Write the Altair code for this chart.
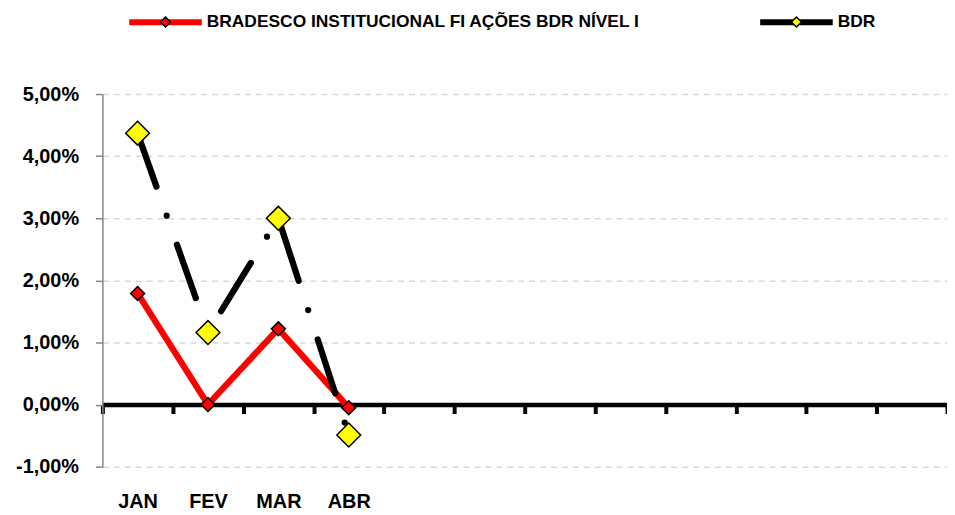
import altair as alt
import pandas as pd

# ---- data ----
months = ["JAN", "FEV", "MAR", "ABR", "MAI", "JUN", "JUL", "AGO", "SET", "OUT", "NOV", "DEZ"]
labeled_months = ["JAN", "FEV", "MAR", "ABR"]
FUND = "BRADESCO INSTITUCIONAL FI AÇÕES BDR NÍVEL I"
BDR = "BDR"
fund_values = [1.79, 0.00, 1.22, -0.05]
bdr_values = [4.37, 1.16, 3.00, -0.49]
y_ticks = [-1, 0, 1, 2, 3, 4, 5]

rows = []
for m, v in zip(labeled_months, fund_values):
    rows.append({"month": m, "series": FUND, "value": v})
for m, v in zip(labeled_months, bdr_values):
    rows.append({"month": m, "series": BDR, "value": v})
df = pd.DataFrame(rows)
df["series_mk"] = df["series"]  # same names, used by the marker layer

FONT = "Liberation Sans"
label_js = "[" + ",".join("'%s'" % m for m in labeled_months) + "]"

x_enc = alt.X(
    "month:N",
    sort=months,
    scale=alt.Scale(type="band", domain=months, paddingInner=0, paddingOuter=0),
    axis=alt.Axis(
        title=None,
        orient="bottom",
        offset=-62.5,
        domainColor="black",
        domainWidth=4.5,
        tickColor="black",
        tickWidth=4,
        tickSize=9,
        tickBand="extent",
        labelExpr="indexof(" + label_js + ", datum.value) >= 0 ? datum.value : ''",
        labelAngle=0,
        labelPadding=79,
        labelFont=FONT,
        labelFontSize=20,
        labelFontWeight="bold",
        labelColor="black",
        labelOverlap=False,
        grid=False,
    ),
)

y_enc = alt.Y(
    "value:Q",
    scale=alt.Scale(domain=[-1, 5], nice=False, zero=False),
    axis=alt.Axis(
        title=None,
        values=y_ticks,
        labelExpr="(datum.value < 0 ? '-' : '') + replace(format(abs(datum.value), '.2f'), '.', ',') + '%'",
        grid=True,
        gridDash=[6, 5],
        gridColor="#d9d9d9",
        gridWidth=1.5,
        domainColor="#868686",
        domainWidth=1.5,
        tickColor="#868686",
        tickWidth=1.5,
        tickSize=7,
        labelPadding=17,
        labelFont=FONT,
        labelFontSize=20,
        labelFontWeight="bold",
        labelColor="black",
    ),
)

legend_common = dict(
    title=None,
    orient="none",
    direction="horizontal",
    padding=0,
    legendX=24,
    legendY=-112,
    labelFont=FONT,
    labelFontSize=17.5,
    labelFontWeight="bold",
    labelColor="black",
    labelLimit=0,
    labelOffset=2,
)

lines = alt.Chart(df).mark_line(strokeWidth=6.3, strokeCap="round", strokeJoin="round").encode(
    x=x_enc,
    y=y_enc,
    color=alt.Color(
        "series:N",
        sort="descending",
        scale=alt.Scale(range=["#ff0000", "#000000"]),
        legend=alt.Legend(
            symbolType="stroke",
            symbolSize=5329,
            symbolStrokeWidth=6,
            columnPadding=108,
            **legend_common,
        ),
    ),
    strokeDash=alt.StrokeDash(
        "series:N",
        scale=alt.Scale(domain=[FUND, BDR], range=[[1, 0], [57, 31, 0, 31]]),
        legend=None,
    ),
)

# marker part of the legend: same place, symbols only (labels come from the line legend)
points = alt.Chart(df).mark_point(filled=True, stroke="black", strokeWidth=1.5, opacity=1, shape="diamond").encode(
    x=x_enc,
    y=y_enc,
    fill=alt.Fill(
        "series_mk:N",
        sort="descending",
        scale=alt.Scale(range=["#ff0000", "#ffff00"]),
        legend=alt.Legend(
            symbolType="M0,-0.13L0.13,0L0,0.13L-0.13,0Z",
            symbolSize=6006,
            symbolStrokeColor="black",
            symbolStrokeWidth=1.5,
            symbolOpacity=1,
            labelExpr="''",
            columnPadding=554,
            **legend_common,
        ),
    ),
    size=alt.Size(
        "series_mk:N",
        scale=alt.Scale(domain=[FUND, BDR], range=[196, 576]),
        legend=None,
    ),
)

chart = (
    alt.layer(lines, points)
    .properties(
        width=850,
        height=375,
        autosize=alt.AutoSizeParams(type="none"),
        padding={"left": 95, "top": 85, "right": 0, "bottom": 46},
        background="white",
    )
    .configure_view(stroke=None)
)

chart.save("out.html", embed_options={"renderer": "svg", "actions": False})
